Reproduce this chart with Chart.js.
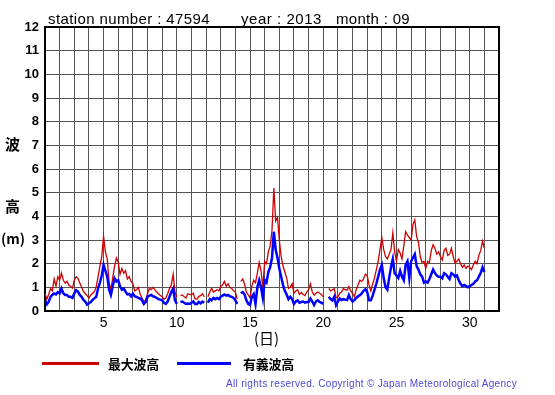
<!DOCTYPE html>
<html>
<head>
<meta charset="utf-8">
<script src="https://cdn.jsdelivr.net/npm/chart.js@4"></script>
<style>
  body { margin:0; background:#fff; width:555px; height:395px; position:relative; overflow:hidden;
         font-family:"Liberation Sans", Arial, sans-serif; }
  #wrap { position:absolute; left:0; top:0; width:555px; height:395px; }
  .t { position:absolute; white-space:nowrap; color:#000; line-height:1; transform:translateY(-50%); }
  .jp { font-family:"Noto Sans CJK JP", sans-serif; font-weight:bold; }
  .key { position:absolute; height:3px; }
</style>
</head>
<body>
<div id="wrap"><canvas id="waveChart" width="555" height="395"></canvas></div>

<div class="t fit" data-w="162" style="left:48px;top:18px;font-size:15px">station number : 47594</div>
<div class="t fit" data-w="81" style="left:241px;top:18px;font-size:15px">year : 2013</div>
<div class="t fit" data-w="74" style="left:336px;top:18px;font-size:15px">month : 09</div>

<div class="t jp" style="left:5px;top:143px;font-size:15px">波</div>
<div class="t jp" style="left:5px;top:205px;font-size:15px">高</div>
<div class="t jp" style="left:1px;top:238px;font-size:14px">(m)</div>

<div class="t jp" style="left:254px;top:337px;font-size:15px;font-weight:normal">(日)</div>

<div class="key" style="left:42px;top:362px;width:57px;background:#cc0000"></div>
<div class="t jp fit" data-w="51" style="left:108px;top:363px;font-size:13px">最大波高</div>
<div class="key" style="left:177px;top:362px;width:54px;background:#0000ff"></div>
<div class="t jp fit" data-w="51" style="left:243px;top:363px;font-size:13px">有義波高</div>

<div class="t fit" data-w="291" style="left:226px;top:384px;font-size:10px;color:#4a4ad6">All rights reserved. Copyright © Japan Meteorological Agency</div>

<script>
// 3-hourly readings (0,3,...,21h) for each day, 1 Sep 00h .. 1 Oct 00h
const STEP_DAYS = 3 / 24;
const FIRST_DAY = 1;

const maxWave = [
  0.75, 0.5, 0.7, 0.95, 0.85, 1.35, 1.05, 1.45,   // 1
  1.3, 1.6, 1.3, 1.18, 1.25, 1.1, 1.04, 0.96,     // 2
  1.3, 1.45, 1.38, 1.18, 1.0, 0.82, 0.75, 0.65,   // 3
  0.55, 0.68, 0.75, 0.82, 1.04, 1.45, 1.9, 2.3,   // 4
  3.15, 2.5, 2.2, 1.2, 0.9, 1.4, 1.9, 2.24,       // 5
  2.05, 1.55, 1.8, 1.6, 1.7, 1.35, 1.45, 1.25,    // 6
  1.15, 0.85, 0.9, 1.0, 0.72, 0.55, 0.4, 0.45,    // 7
  0.73, 0.96, 0.9, 1.0, 0.9, 0.8, 0.73, 0.65,     // 8
  0.6, 0.5, 0.55, 0.73, 0.95, 1.1, 1.55, 0.8,     // 9
  0.6, null, 0.65, 0.68, 0.6, 0.55, 0.73, 0.7,    // 10
  0.68, 0.75, 0.5, 0.5, 0.62, 0.65, 0.73, 0.6,    // 11
  null, 0.6, 0.8, 0.96, 0.8, 0.85, 0.9, 0.85,     // 12
  1.05, 1.1, 1.25, 1.05, 1.15, 1.0, 0.95, 0.85,   // 13
  0.8, 0.5, null, 1.25, 1.35, 1.15, 0.8, 0.68,    // 14
  0.55, 1.05, 1.3, 1.2, 1.6, 2.05, 1.7, 1.0,      // 15
  2.1, 2.0, 2.5, 2.75, 3.4, 5.2, 3.8, 3.95,       // 16
  3.0, 2.3, 1.9, 1.65, 1.4, 0.95, 1.0, 1.15,      // 17
  0.75, 0.85, 0.9, 0.7, 0.78, 0.7, 0.65, 0.8,     // 18
  0.9, 1.15, 0.8, 0.67, 0.75, 0.8, 0.75, 0.7,     // 19
  0.6, null, null, 0.95, 0.85, 0.9, 0.95, 0.55,   // 20
  0.6, 0.75, 0.8, 0.95, 0.9, 0.88, 1.03, 0.85,    // 21
  0.75, 0.6, 0.9, 1.1, 1.3, 1.25, 1.35, 1.55,     // 22
  1.5, 1.1, 0.85, 1.15, 1.4, 1.75, 2.1, 2.6,      // 23
  3.1, 2.6, 2.3, 2.2, 2.4, 2.6, 3.3, 2.5,         // 24
  2.1, 2.6, 2.45, 2.2, 2.75, 3.35, 3.2, 3.1,      // 25
  3.0, 3.65, 3.85, 3.15, 2.9, 2.3, 2.05, 2.1,     // 26
  1.8, 2.1, 2.05, 2.55, 2.8, 2.65, 2.4, 2.5,      // 27
  2.3, 2.15, 2.55, 2.65, 2.35, 2.4, 2.65, 2.3,    // 28
  2.03, 2.1, 2.2, 2.0, 1.85, 1.95, 1.8, 1.9,      // 29
  1.85, 1.75, 1.95, 2.1, 2.0, 2.35, 2.55, 2.95,   // 30
  2.65
];

const sigWave = [
  0.45, 0.28, 0.38, 0.6, 0.68, 0.74, 0.7, 0.8,    // 1
  0.75, 0.95, 0.75, 0.68, 0.68, 0.6, 0.6, 0.55,   // 2
  0.75, 0.88, 0.82, 0.68, 0.6, 0.47, 0.4, 0.27,   // 3
  0.33, 0.38, 0.47, 0.54, 0.6, 0.96, 1.2, 1.5,    // 4
  1.95, 1.7, 1.45, 0.9, 0.68, 1.05, 1.38, 1.25,   // 5
  1.3, 1.04, 0.9, 0.95, 0.82, 0.7, 0.72, 0.62,    // 6
  0.73, 0.62, 0.6, 0.55, 0.53, 0.45, 0.3, 0.38,   // 7
  0.6, 0.65, 0.68, 0.62, 0.6, 0.55, 0.5, 0.48,    // 8
  0.45, 0.35, 0.3, 0.4, 0.6, 0.8, 0.95, 0.45,     // 9
  0.3, null, 0.38, 0.4, 0.35, 0.3, 0.32, 0.3,     // 10
  0.35, 0.4, 0.3, 0.3, 0.38, 0.32, 0.4, 0.35,     // 11
  null, 0.35, 0.5, 0.45, 0.55, 0.5, 0.55, 0.5,    // 12
  0.6, 0.65, 0.7, 0.65, 0.68, 0.62, 0.6, 0.55,    // 13
  0.45, 0.3, null, 0.75, 0.8, 0.7, 0.45, 0.3,     // 14
  0.25, 0.6, 0.72, 0.3, 1.0, 1.3, 1.0, 0.55,      // 15
  1.3, 1.2, 1.65, 1.85, 2.25, 3.35, 2.6, 2.25,    // 16
  1.8, 1.45, 1.1, 0.85, 0.7, 0.5, 0.6, 0.5,       // 17
  0.3, 0.4, 0.45, 0.35, 0.38, 0.4, 0.35, 0.38,    // 18
  0.38, 0.53, 0.4, 0.25, 0.4, 0.45, 0.38, 0.35,   // 19
  0.3, null, null, 0.6, 0.5, 0.45, 0.6, 0.25,     // 20
  0.4, 0.53, 0.46, 0.5, 0.48, 0.46, 0.67, 0.5,    // 21
  0.4, 0.46, 0.55, 0.62, 0.67, 0.74, 0.85, 0.92,  // 22
  0.8, 0.45, 0.45, 0.65, 0.9, 1.15, 1.45, 1.75,   // 23
  1.95, 1.4, 1.0, 0.9, 1.4, 1.85, 2.2, 1.6,       // 24
  1.5, 1.4, 1.7, 1.45, 1.3, 1.95, 2.1, 1.4,       // 25
  2.1, 2.25, 2.4, 1.9, 1.75, 1.55, 1.45, 1.2,     // 26
  1.25, 1.2, 1.35, 1.55, 1.75, 1.6, 1.5, 1.45,    // 27
  1.45, 1.38, 1.6, 1.55, 1.45, 1.35, 1.6, 1.55,   // 28
  1.45, 1.5, 1.3, 1.15, 1.05, 1.1, 1.05, 1.0,     // 29
  1.05, 1.1, 1.15, 1.25, 1.3, 1.45, 1.6, 1.85,    // 30
  1.65
];

const dayTicks = [5, 10, 15, 20, 25, 30];

function toPoints(arr) {
  return arr.map((v, i) => ({ x: FIRST_DAY + i * STEP_DAYS, y: v }));
}

// stretch text to the width it has in the picture
function fitText() {
  document.querySelectorAll('.fit').forEach(el => {
    el.style.letterSpacing = '0px';
    let target = +el.dataset.w;
    let n = el.textContent.length;
    let w = el.getBoundingClientRect().width;
    el.style.letterSpacing = ((target - w) / n) + 'px';
  });
}

const frame = {
  id: 'frame',
  beforeDatasetsDraw(chart) {
    const a = chart.chartArea, ctx = chart.ctx;
    ctx.save();
    ctx.strokeStyle = '#000';
    ctx.lineWidth = 2;
    ctx.strokeRect(a.left, a.top, a.right - a.left, a.bottom - a.top);
    ctx.restore();
  }
};

Chart.defaults.font.family = '"Liberation Sans", Arial, sans-serif';

new Chart(document.getElementById('waveChart'), {
  type: 'line',
  data: {
    datasets: [
      { label: '最大波高', data: toPoints(maxWave), borderColor: '#cc0000', borderWidth: 1.3,
        pointRadius: 0, tension: 0, spanGaps: false, order: 2 },
      { label: '有義波高', data: toPoints(sigWave), borderColor: '#0000ff', borderWidth: 2.5,
        pointRadius: 0, tension: 0, spanGaps: false, order: 1 }
    ]
  },
  options: {
    responsive: false,
    animation: false,
    layout: { padding: { left: 0, top: 27, right: 56, bottom: 0 } },
    plugins: { legend: { display: false }, tooltip: { enabled: false } },
    scales: {
      x: {
        type: 'linear', min: 1, max: 32,
        afterFit(s) { s.height = 84; },
        ticks: {
          stepSize: 1, autoSkip: false, maxRotation: 0, padding: 4,
          color: '#000', font: { size: 14 },
          callback: v => dayTicks.includes(v) ? String(v) : ''
        },
        grid: { color: '#555', lineWidth: 1, drawTicks: false },
        border: { display: false }
      },
      y: {
        min: 0, max: 12,
        afterFit(s) { s.width = 45; },
        ticks: { stepSize: 1, color: '#000', padding: 6, font: { size: 13, weight: 'bold' } },
        grid: { color: '#555', lineWidth: 1, drawTicks: false },
        border: { display: false }
      }
    }
  },
  plugins: [frame]
});

fitText();
</script>
</body>
</html>
